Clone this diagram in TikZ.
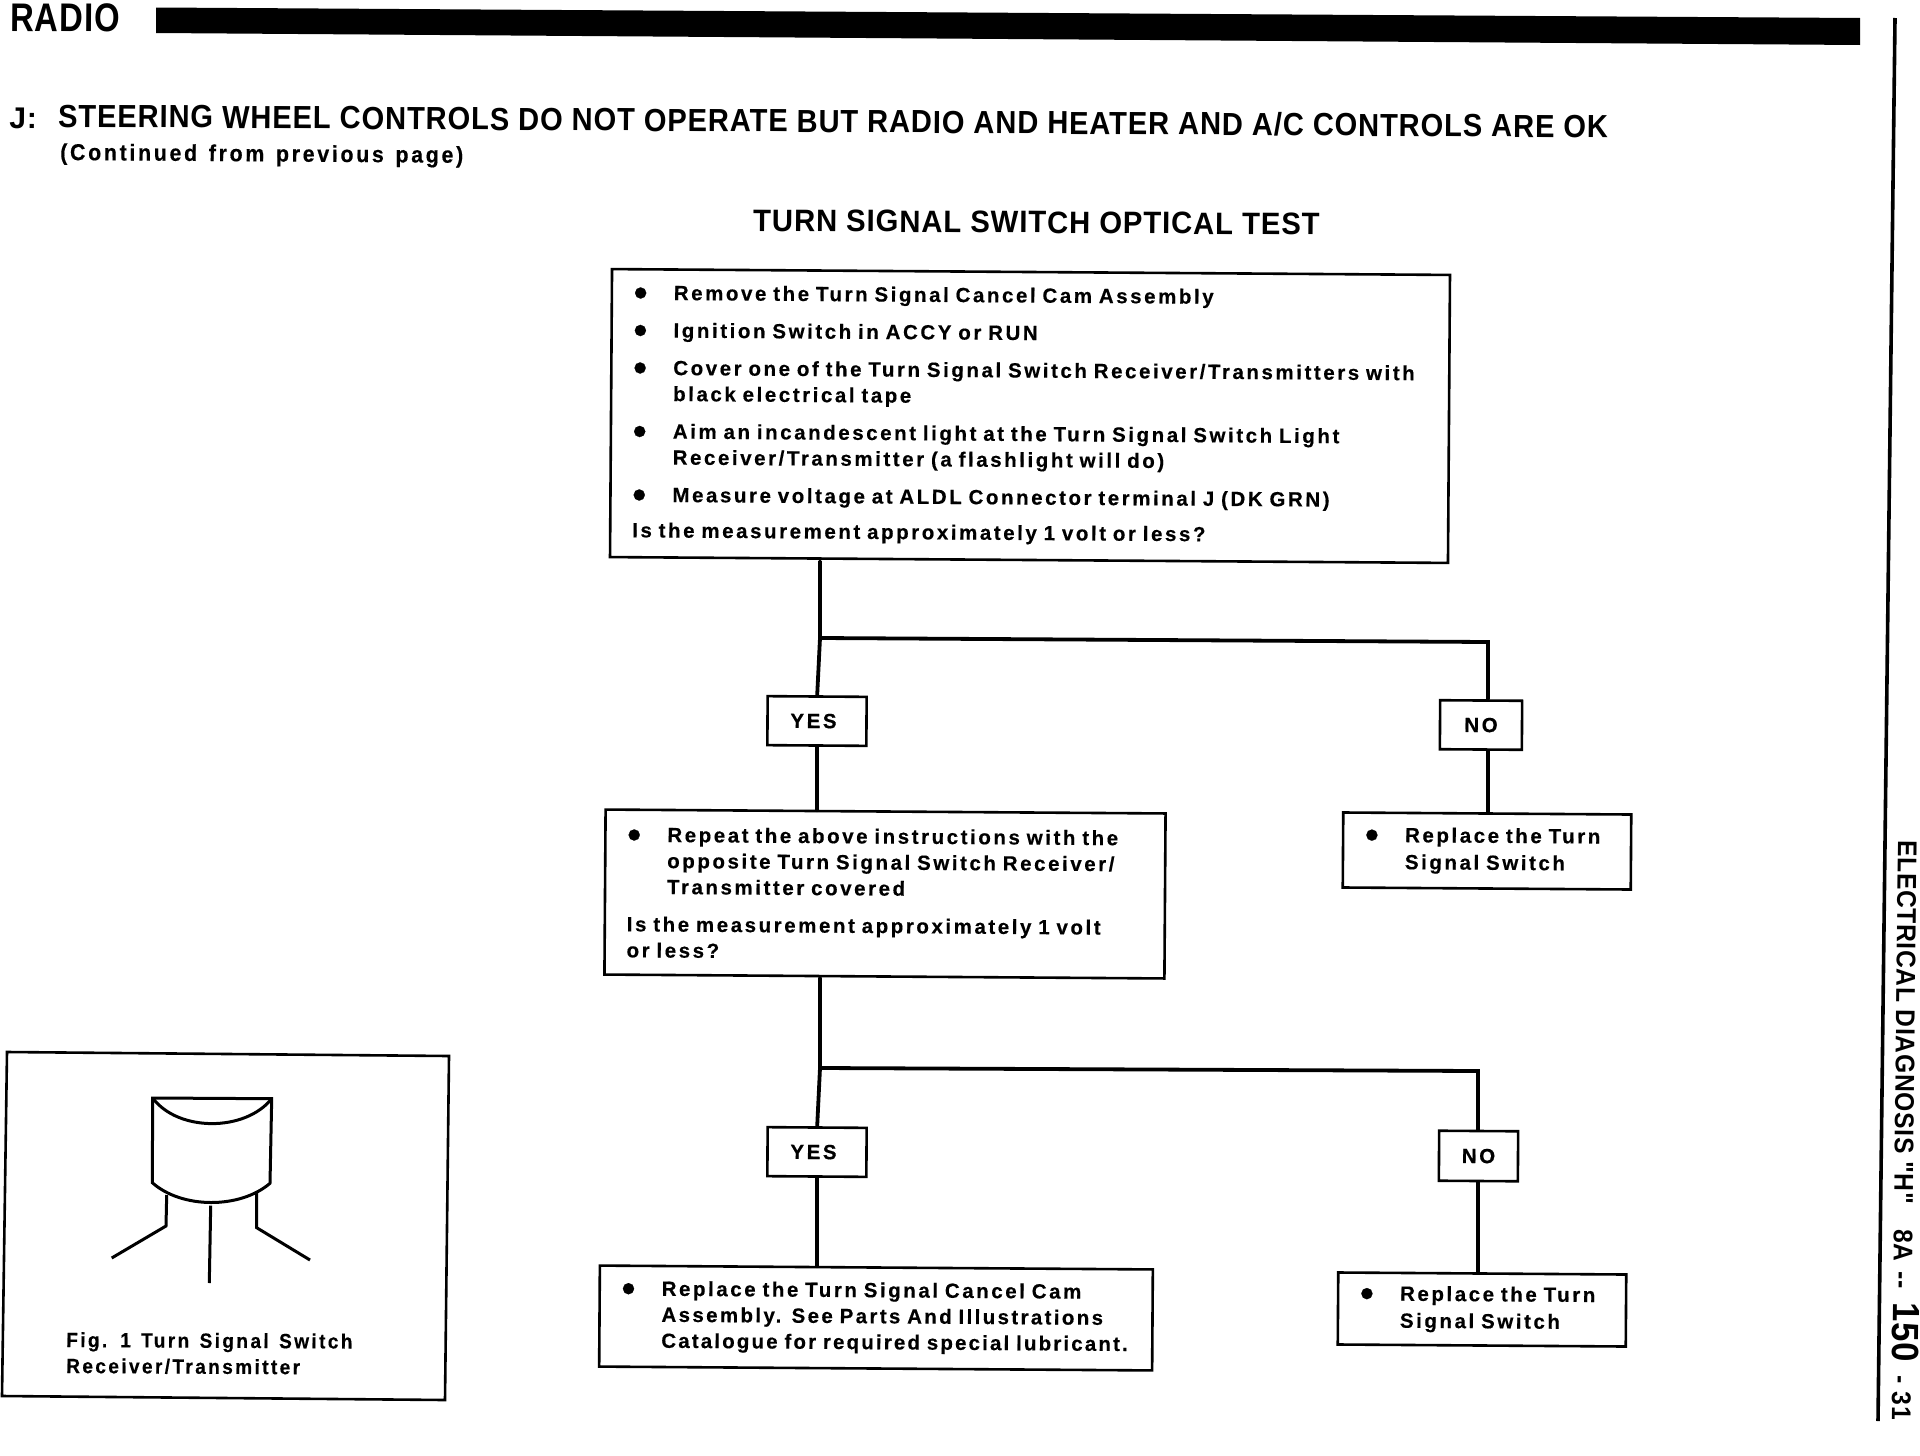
\documentclass[tikz,border=0pt]{standalone}
\usepackage{fontspec}
\usepackage{graphicx}
\newfontfamily\boxfont{Liberation Sans}[LetterSpace=12.5, WordSpace=1.35, BoldFeatures={FakeBold=0.4}]
\newfontfamily\headfont{Liberation Sans}[LetterSpace=3]
\newcommand{\bul}{\makebox[40pt][l]{\raisebox{-6pt}{\scalebox{1.9}{\textbullet}}}}
\newcommand{\ind}{\hspace*{40pt}}
\tikzset{
  % one unit is one pixel of the page
  every picture/.append style = {x=1pt, y=-1pt, line width=2.6pt},
  boxbase/.style  = {draw, rotate=-0.4, inner ysep=0pt, inner xsep=22pt, align=left,
                     font=\fontsize{20.5}{26}\selectfont\boxfont\bfseries},
  answer/.style   = {boxbase, inner xsep=0pt, align=center},
  link/.style     = {line width=3.8pt, line cap=round},
  toptext/.style  = {anchor=base west, rotate=-0.4, inner sep=0pt},
  figline/.style  = {line width=3pt},
}
\begin{document}
\begin{tikzpicture}
  \useasboundingbox (0,0) rectangle (1920,1456);
  % page header
  \node[toptext, xscale=0.82, font=\fontsize{40}{40}\selectfont\headfont\bfseries] (radio) at (9,31) {RADIO};
  \fill (156,7.5) -- (1860,18) -- (1860,45) -- (156,33) -- cycle;
  \node[toptext, font=\fontsize{30}{30}\selectfont\headfont\bfseries] (letter) at (8,128) {J:};
  \node[toptext, xscale=0.91, font=\fontsize{32}{32}\selectfont\headfont\bfseries] (heading) at (57,127) {STEERING WHEEL CONTROLS DO NOT OPERATE BUT RADIO AND HEATER AND A/C CONTROLS ARE OK};
  \node[toptext, xscale=0.93, font=\fontsize{23}{23}\selectfont\boxfont\bfseries] (contd) at (59,160) {(Continued from previous page)};
  \node[toptext, xscale=0.945, font=\fontsize{31}{31}\selectfont\headfont\bfseries] (title) at (752,231) {TURN SIGNAL SWITCH OPTICAL TEST};
  % right margin
  \draw[line width=3.6pt] (1895,18) -- (1878,1421);
  \node[anchor=base west, rotate=-90.6, xscale=0.91, inner sep=0pt, font=\fontsize{27}{27}\selectfont\headfont\bfseries] (side) at (1898,839)
    {ELECTRICAL DIAGNOSIS "H"\hspace{28pt}8A\hspace{11pt}--\hspace{15pt}{\fontsize{38}{38}\selectfont 150}\hspace{15pt}-\hspace{9pt}31};
  % first test
  \node[boxbase, text width=794pt, minimum height=288pt] (topbox) at (1030,416) {%
    \bul Remove the Turn Signal Cancel Cam Assembly\\[11.5pt]
    \bul Ignition Switch in ACCY or RUN\\[11.5pt]
    \bul Cover one of the Turn Signal Switch Receiver/Transmitters with\\
    \ind black electrical tape\\[11.5pt]
    \bul Aim an incandescent light at the Turn Signal Switch Light\\
    \ind Receiver/Transmitter (a flashlight will do)\\[11.5pt]
    \bul Measure voltage at ALDL Connector terminal J (DK GRN)\\[9.5pt]
    Is the measurement approximately 1 volt or less?};
  \node[answer, minimum width=99pt, minimum height=49pt] (yesa) at (817,721) {YES\hspace{7pt}};
  \node[answer, minimum width=82pt, minimum height=49pt] (noa) at (1481,725) {NO};
  \node[boxbase, text width=516pt, minimum height=165pt] (secondbox) at (885,894) {%
    \bul Repeat the above instructions with the\\
    \ind opposite Turn Signal Switch Receiver/\\
    \ind Transmitter covered\\[11.5pt]
    Is the measurement approximately 1 volt\\
    or less?};
  \node[boxbase, text width=244pt, minimum height=75pt] (fixa) at (1487,851) {%
    \bul Replace the Turn\\[1pt]
    \ind Signal Switch};
  % second test
  \node[answer, minimum width=99pt, minimum height=49pt] (yesb) at (817,1152) {YES\hspace{7pt}};
  \node[answer, minimum width=79pt, minimum height=50pt] (nob) at (1478.5,1156) {NO};
  \node[boxbase, text width=509pt, minimum height=101pt] (camfix) at (876,1318) {%
    \bul Replace the Turn Signal Cancel Cam\\
    \ind {\addfontfeature{LetterSpace=11.5}Assembly. See Parts And Illustrations}\\
    \ind {\addfontfeature{LetterSpace=10.5}Catalogue for required special lubricant.}};
  \node[boxbase, text width=244pt, minimum height=72pt] (fixb) at (1482,1309.5) {%
    \bul Replace the Turn\\[1pt]
    \ind Signal Switch};
  % connectors
  \coordinate (splita) at (820,638);
  \coordinate (cornera) at (1488,642);
  \coordinate (splitb) at (820,1068);
  \coordinate (cornerb) at (1478,1071);
  \draw[link] (splita |- topbox.south) -- (splita) -- (yesa.north);
  \draw[link] (yesa.south) -- (yesa.south |- secondbox.north);
  \draw[link] (splita) -- (cornera) -- (cornera |- noa.north);
  \draw[link] (cornera |- noa.south) -- (cornera |- fixa.north);
  \draw[link] (splitb |- secondbox.south) -- (splitb) -- (yesb.north);
  \draw[link] (yesb.south) -- (yesb.south |- camfix.north);
  \draw[link] (splitb) -- (cornerb) -- (cornerb |- nob.north);
  \draw[link] (cornerb |- nob.south) -- (cornerb |- fixb.north);
  % figure panel
  \draw[line width=2.6pt] (7,1052) -- (449,1056) -- (445,1400) -- (2,1396) -- cycle;
  \draw[figline] (152.7,1098) -- (271.7,1098.7) -- (270,1183.3)
    .. controls (240,1209) and (182,1209) .. (152.3,1182.7) -- cycle;
  \draw[figline] (152.7,1098) .. controls (178,1132) and (245,1132) .. (271.7,1098.7);
  \draw[figline] (166.7,1195) -- (166,1226) -- (111.7,1258);
  \draw[figline] (210.7,1205.7) -- (209.3,1283);
  \draw[figline] (256.7,1193) -- (256.7,1227.7) -- (310,1260);
  \node[toptext, rotate=0.1, xscale=0.93, font=\fontsize{20.5}{26}\selectfont\boxfont\bfseries] (figcap) at (65,1347) {Fig. 1 Turn Signal Switch};
  \node[toptext, rotate=0.1, xscale=0.93, font=\fontsize{20.5}{26}\selectfont\boxfont\bfseries] (figcapb) at (65,1373) {Receiver/Transmitter};
\end{tikzpicture}
\end{document}
